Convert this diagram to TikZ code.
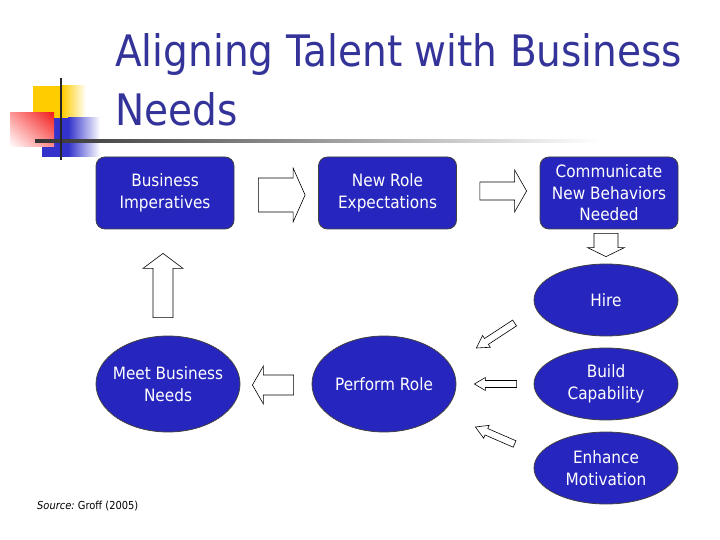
\documentclass[tikz,border=0pt]{standalone}
\usepackage{fontspec}
\setmainfont{DejaVu Sans}[FakeStretch=0.9]
\usetikzlibrary{calc,shapes.geometric,shadings}
\definecolor{titleblue}{RGB}{51,51,153}
\definecolor{boxblue}{RGB}{38,38,190}
\definecolor{decoyellow}{RGB}{255,204,0}
\definecolor{decoblue}{RGB}{51,51,204}
\definecolor{decored}{RGB}{240,30,30}
\newcommand\blockarrow[5]{%
  \coordinate (ba-h) at ($(#2)!#5!(#1)$);
  \draw[barrow] ($(#1)!#3!90:(#2)$) -- ($(ba-h)!#3!90:(#2)$) -- ($(ba-h)!#4!90:(#2)$) -- (#2)
    -- ($(ba-h)!#4!-90:(#2)$) -- ($(ba-h)!#3!-90:(#2)$) -- ($(#1)!#3!-90:(#2)$) -- cycle;}
\begin{document}
\begin{tikzpicture}[x=1pt,y=-1pt,
  barrow/.style={draw=black, fill=white, line width=0.6pt, line join=miter},
  nodefont/.style={font=\fontsize{17}{21.5}\selectfont},
  rbox/.style={draw=black!75, line width=0.8pt, fill=boxblue, rounded corners=9pt,
    minimum width=138pt, minimum height=72pt, text=white, align=center, inner sep=0pt, nodefont},
  eln/.style={ellipse, draw=black!75, line width=0.8pt, fill=boxblue,
    minimum width=144pt, minimum height=72pt, inner sep=0pt},
  lbl/.style={text=white, align=center, inner sep=0pt, nodefont},
  titlefont/.style={text=titleblue, inner sep=0pt, font=\fontsize{43.4}{59}\selectfont}]
\useasboundingbox (0,0) rectangle (720,540);
% decoration
\fill[decoyellow] (33,86) rectangle (62,118);
\shade[left color=decoyellow, right color=white] (62,86) rectangle (86,118);
\fill[decoblue] (42,118) rectangle (68,157);
\shade[left color=decoblue, right color=white] (68,118) rectangle (100,157);
\shade[upper right=decored, upper left=red!40, lower right=red!45, lower left=white] (10,113) rectangle (54,147);
\shade[left color=black!80, right color=white] (35,139.8) rectangle (600,142.4);
\draw[line width=2pt, black!85] (61,78) -- (61,160);
% title
\node[titlefont, anchor=base west] (t1) at (115,67) {Aligning Talent with Business};
\node[titlefont, anchor=base west] (t2) at (115,126) {Needs};
% boxes
\node[rbox] (imp) at (165,193) {Business\\Imperatives};
\node[rbox] (nre) at (387.5,193) {New Role\\Expectations};
\node[rbox] (comm) at (609,193) {Communicate\\New Behaviors\\Needed};
% ellipses
\node[eln, minimum height=96pt, label={[lbl]center:Meet Business\\Needs}] (meet) at (168,384) {};
\node[eln, minimum height=96pt, label={[lbl]center:Perform Role}] (perf) at (384,384) {};
\node[eln, label={[lbl]center:Hire}] (hire) at (606,300) {};
\node[eln, label={[lbl]center:Build\\Capability}] (build) at (606,384) {};
\node[eln, label={[lbl]center:Enhance\\Motivation}] (enh) at (606,468) {};
% arrow end points
\coordinate (a1t) at ($(imp.east)+(24,2)$);
\coordinate (a1p) at ($(nre.west)+(-13,2)$);
\coordinate (a2t) at ($(nre.east)+(23,-2)$);
\coordinate (a2p) at ($(comm.west)+(-13,-2)$);
\coordinate (a3t) at ($(comm.south)+(-3,4)$);
\coordinate (a3p) at ($(hire.north)+(0,-7)$);
\coordinate (a4t) at ($(meet.north)+(-5,-18)$);
\coordinate (a4p) at ($(imp.south)+(-2,24)$);
\coordinate (a5t) at ($(perf.west)+(-18,1)$);
\coordinate (a5p) at ($(meet.east)+(12,1)$);
\coordinate (a6t) at ($(build.west)+(-17,0)$);
\coordinate (a6p) at ($(perf.east)+(18,0)$);
\coordinate (a7t) at ($(hire.west)+(-19,23)$);
\coordinate (a7p) at ($(perf.east)+(20,-36)$);
\coordinate (a8t) at ($(enh.west)+(-19,-24)$);
\coordinate (a8p) at ($(perf.east)+(19,43)$);
% block arrows
\blockarrow{a1t}{a1p}{17pt}{27pt}{12pt}
\blockarrow{a2t}{a2p}{9pt}{21pt}{12pt}
\blockarrow{a3t}{a3p}{12pt}{18.5pt}{9pt}
\blockarrow{a4t}{a4p}{10pt}{20pt}{15pt}
\blockarrow{a5t}{a5p}{10pt}{19pt}{11pt}
\blockarrow{a6t}{a6p}{3.5pt}{6.5pt}{11pt}
\blockarrow{a7t}{a7p}{3.5pt}{7pt}{12pt}
\blockarrow{a8t}{a8p}{3.5pt}{7pt}{12pt}
% source
\node[anchor=base west, inner sep=0pt, font=\fontsize{11}{13}\selectfont] (src) at (37,509) {\textit{Source:}~Groff (2005)};
\end{tikzpicture}
\end{document}
